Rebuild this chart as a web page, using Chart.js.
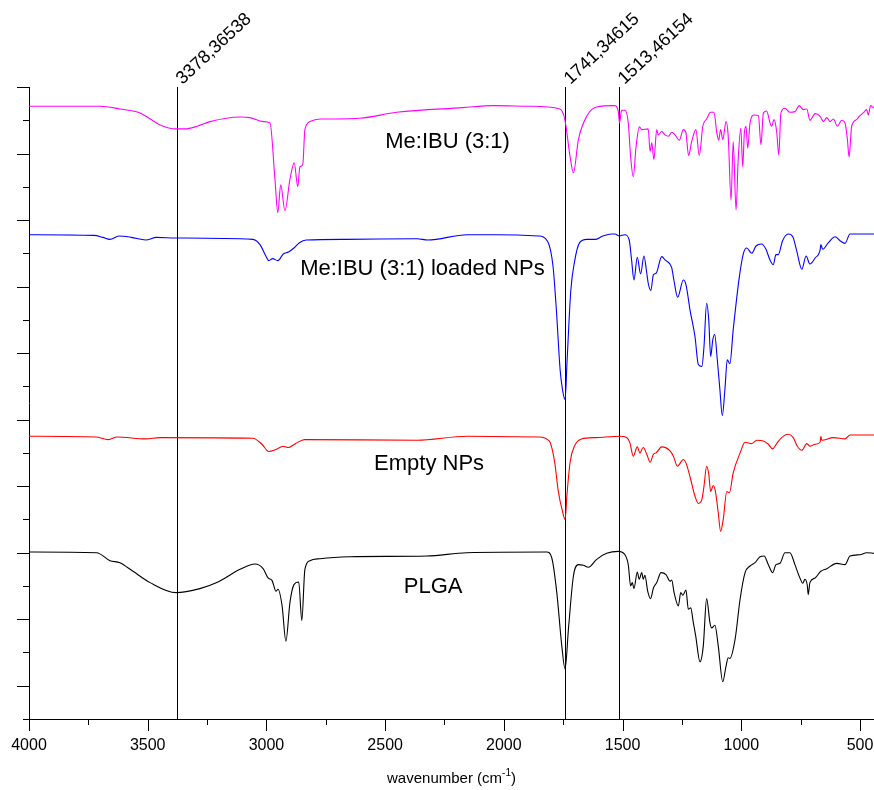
<!DOCTYPE html>
<html>
<head>
<meta charset="utf-8">
<script src="https://cdn.jsdelivr.net/npm/chart.js@4.4.1/dist/chart.umd.min.js"></script>
<style>
    html, body { margin: 0; padding: 0; background: #fff; }
    #wrap { width: 874px; height: 790px; }
</style>
</head>
<body>
<div id="wrap"><canvas id="ftir" width="874" height="790"></canvas></div>
<script>
// wavenumber (cm-1) / signal pairs, one pair of arrays per spectrum
var ibuWn = [4000, 3701, 3617, 3532, 3490, 3448, 3381, 3343, 3292, 3238, 3111, 3069, 3013, 2985, 2964, 2952, 2940, 2922, 2901, 2883, 2868, 2859, 2847, 2838, 2817, 2774, 2718, 2606, 2451, 2172, 2046, 1890, 1764, 1743, 1721, 1707, 1686, 1651, 1609, 1532, 1518, 1513, 1504, 1490, 1476, 1466, 1455, 1443, 1429, 1419, 1392, 1384, 1377, 1368, 1356, 1350, 1335, 1321, 1307, 1293, 1279, 1261, 1244, 1233, 1222, 1209, 1191, 1177, 1162, 1146, 1129, 1115, 1103, 1095, 1087, 1078, 1064, 1055, 1043, 1034, 1022, 1013, 1002, 994, 987, 980, 973, 963, 946, 928, 917, 907, 893, 879, 872, 862, 851, 842, 833, 816, 795, 774, 756, 739, 724, 711, 689, 668, 654, 640, 626, 612, 595, 577, 563, 553, 546, 535, 514, 503, 486, 472, 465, 455, 441];
var ibuVal = [8.71, 8.71, 8.67, 8.61, 8.52, 8.43, 8.37, 8.37, 8.41, 8.48, 8.55, 8.54, 8.48, 8.46, 7.61, 7.11, 7.53, 7.14, 7.61, 7.86, 7.50, 7.80, 7.83, 8.36, 8.48, 8.52, 8.52, 8.53, 8.62, 8.69, 8.72, 8.71, 8.67, 8.51, 7.95, 7.71, 8.21, 8.56, 8.70, 8.72, 8.63, 8.46, 8.65, 8.65, 8.46, 7.95, 7.65, 8.11, 8.40, 8.36, 8.37, 8.03, 8.16, 7.91, 8.36, 8.28, 8.33, 8.28, 8.26, 8.32, 8.28, 8.20, 8.36, 8.31, 7.97, 8.18, 8.36, 7.97, 8.41, 8.52, 8.62, 8.62, 8.31, 8.20, 8.36, 8.21, 8.48, 8.26, 7.30, 8.18, 7.15, 7.91, 8.38, 7.80, 8.31, 8.41, 8.08, 8.46, 8.58, 8.57, 8.13, 8.61, 8.64, 8.46, 8.41, 8.51, 8.33, 7.98, 8.61, 8.68, 8.62, 8.63, 8.72, 8.66, 8.67, 8.50, 8.60, 8.56, 8.48, 8.54, 8.48, 8.52, 8.41, 8.50, 8.46, 8.21, 7.95, 8.41, 8.51, 8.56, 8.61, 8.66, 8.58, 8.72, 8.68];

var loadedWn = [4000, 3726, 3689, 3659, 3621, 3569, 3508, 3463, 3381, 3057, 3027, 3004, 2990, 2974, 2952, 2929, 2907, 2884, 2861, 2832, 2666, 2366, 2320, 2155, 2034, 1854, 1816, 1793, 1779, 1763, 1753, 1742, 1734, 1718, 1703, 1681, 1651, 1613, 1583, 1545, 1532, 1514, 1490, 1472, 1462, 1452, 1438, 1424, 1410, 1398, 1392, 1381, 1370, 1359, 1335, 1321, 1293, 1283, 1268, 1244, 1233, 1216, 1195, 1181, 1166, 1157, 1146, 1137, 1129, 1120, 1112, 1101, 1090, 1080, 1069, 1059, 1048, 1034, 1008, 991, 977, 956, 938, 914, 896, 879, 865, 854, 844, 826, 802, 783, 766, 745, 727, 711, 689, 668, 665, 657, 633, 605, 584, 563, 542, 441];
var loadedVal = [6.78, 6.77, 6.74, 6.71, 6.76, 6.74, 6.70, 6.74, 6.73, 6.71, 6.63, 6.47, 6.39, 6.42, 6.39, 6.49, 6.52, 6.58, 6.66, 6.70, 6.71, 6.72, 6.70, 6.78, 6.78, 6.76, 6.68, 6.31, 5.66, 4.75, 4.45, 4.30, 4.86, 5.94, 6.36, 6.66, 6.71, 6.71, 6.76, 6.79, 6.79, 6.76, 6.78, 6.70, 6.40, 6.10, 6.44, 6.19, 6.46, 6.20, 6.05, 5.94, 6.18, 6.20, 6.45, 6.40, 6.28, 6.08, 5.84, 6.10, 6.03, 5.65, 5.25, 4.83, 4.80, 5.10, 5.75, 5.50, 4.95, 5.20, 5.28, 4.90, 4.45, 4.06, 4.45, 4.90, 4.84, 5.35, 6.15, 6.50, 6.58, 6.50, 6.61, 6.64, 6.56, 6.40, 6.33, 6.48, 6.48, 6.69, 6.79, 6.75, 6.53, 6.26, 6.46, 6.34, 6.43, 6.55, 6.63, 6.56, 6.66, 6.75, 6.69, 6.65, 6.79, 6.79];

var emptyWn = [4000, 3719, 3666, 3629, 3508, 3448, 3057, 3019, 2990, 2960, 2929, 2907, 2877, 2839, 2366, 2155, 1854, 1809, 1786, 1771, 1753, 1742, 1734, 1721, 1703, 1673, 1613, 1511, 1483, 1469, 1455, 1438, 1427, 1413, 1398, 1384, 1370, 1359, 1335, 1300, 1286, 1269, 1244, 1233, 1213, 1195, 1181, 1166, 1157, 1146, 1137, 1129, 1118, 1109, 1097, 1087, 1076, 1061, 1050, 1034, 1005, 984, 956, 935, 907, 886, 868, 851, 830, 802, 781, 764, 745, 724, 711, 689, 668, 665, 661, 612, 563, 542, 441];
var emptyVal = [3.75, 3.74, 3.70, 3.74, 3.71, 3.73, 3.72, 3.63, 3.52, 3.55, 3.60, 3.58, 3.64, 3.70, 3.69, 3.75, 3.74, 3.68, 3.36, 2.93, 2.62, 2.50, 2.88, 3.36, 3.60, 3.71, 3.73, 3.75, 3.73, 3.65, 3.45, 3.59, 3.50, 3.58, 3.48, 3.36, 3.48, 3.50, 3.59, 3.53, 3.45, 3.30, 3.40, 3.35, 3.10, 2.85, 2.74, 2.80, 3.00, 3.30, 3.18, 2.92, 3.01, 2.92, 2.60, 2.32, 2.50, 2.92, 2.90, 3.20, 3.50, 3.66, 3.64, 3.69, 3.68, 3.63, 3.56, 3.64, 3.73, 3.78, 3.73, 3.60, 3.54, 3.64, 3.60, 3.63, 3.66, 3.75, 3.69, 3.73, 3.71, 3.77, 3.77];

var plgaWn = [4000, 3715, 3659, 3617, 3562, 3490, 3381, 3280, 3209, 3111, 3048, 3014, 2993, 2976, 2960, 2951, 2934, 2918, 2901, 2884, 2864, 2851, 2838, 2817, 2774, 2648, 2325, 2156, 1819, 1798, 1777, 1756, 1742, 1728, 1707, 1686, 1665, 1644, 1609, 1567, 1518, 1490, 1476, 1466, 1459, 1452, 1438, 1430, 1419, 1413, 1406, 1394, 1382, 1370, 1356, 1338, 1317, 1300, 1293, 1283, 1265, 1255, 1246, 1233, 1223, 1213, 1202, 1192, 1174, 1160, 1146, 1132, 1125, 1111, 1097, 1078, 1064, 1055, 1048, 1026, 1005, 984, 963, 942, 921, 904, 886, 868, 854, 837, 816, 795, 774, 753, 741, 732, 722, 718, 711, 689, 668, 665, 640, 598, 563, 542, 500, 472, 441];
var plgaVal = [2.01, 2.00, 1.88, 1.85, 1.72, 1.55, 1.40, 1.46, 1.55, 1.75, 1.83, 1.76, 1.62, 1.58, 1.42, 1.45, 1.20, 0.67, 1.25, 1.52, 1.56, 0.98, 1.75, 1.88, 1.91, 1.94, 1.95, 2.00, 2.01, 1.92, 1.40, 0.60, 0.25, 0.85, 1.65, 1.82, 1.81, 1.78, 1.90, 1.99, 2.02, 1.97, 1.82, 1.50, 1.55, 1.46, 1.71, 1.60, 1.70, 1.60, 1.66, 1.42, 1.31, 1.47, 1.55, 1.70, 1.67, 1.57, 1.59, 1.40, 1.20, 1.40, 1.36, 1.44, 1.15, 1.17, 0.95, 0.75, 0.36, 0.60, 1.31, 0.95, 0.87, 0.91, 0.60, 0.06, 0.30, 0.42, 0.41, 0.70, 1.30, 1.70, 1.80, 1.85, 1.94, 1.95, 1.82, 1.70, 1.82, 1.84, 2.00, 2.00, 1.82, 1.62, 1.54, 1.60, 1.51, 1.37, 1.55, 1.62, 1.71, 1.72, 1.76, 1.84, 1.82, 1.95, 1.97, 2.00, 1.99];

var xTickValues = [500, 750, 1000, 1250, 1500, 1750, 2000, 2250, 2500, 2750, 3000, 3250, 3500, 3750, 4000];
var yTickValues = [-0.5, 0, 0.5, 1, 1.5, 2, 2.5, 3, 3.5, 4, 4.5, 5, 5.5, 6, 6.5, 7, 7.5, 8, 8.5, 9];

var markerWn = [3378.36538, 1741.34615, 1513.46154];
var markerText = ['3378,36538', '1741,34615', '1513,46154'];

var seriesText = ['Me:IBU (3:1)', 'Me:IBU (3:1) loaded NPs', 'Empty NPs', 'PLGA'];
var seriesTextWn = [2237, 2343, 2315, 2298];
var seriesTextVal = [8.08, 6.17, 3.24, 1.40];

var FONT = '"Liberation Sans", Arial, sans-serif';

function toPoints(wn, val) {
    var pts = [];
    for (var i = 0; i < wn.length; i++) pts.push({ x: wn[i], y: val[i] });
    return pts;
}

function spectrum(label, wn, val, color) {
    return {
        label: label,
        data: toPoints(wn, val),
        borderColor: color,
        borderWidth: 1.1,
        pointRadius: 0,
        fill: false,
        cubicInterpolationMode: 'monotone'
    };
}

var decorPlugin = {
    id: 'decor',
    beforeDatasetsDraw: function (chart) {
        var ctx = chart.ctx;
        var area = chart.chartArea;
        var xs = chart.scales.x;
        ctx.save();
        ctx.strokeStyle = '#000';
        ctx.lineWidth = 1;
        ctx.fillStyle = '#000';
        ctx.font = '18px ' + FONT;
        ctx.textAlign = 'left';
        ctx.textBaseline = 'alphabetic';
        markerWn.forEach(function (w, i) {
            var px = Math.round(xs.getPixelForValue(w)) + 0.5;
            ctx.beginPath();
            ctx.moveTo(px, area.top);
            ctx.lineTo(px, area.bottom);
            ctx.stroke();

            ctx.save();
            ctx.translate(px + 5, area.top - 2);
            ctx.rotate(-43 * Math.PI / 180);
            ctx.fillText(markerText[i], 0, 0);
            ctx.restore();
        });
        ctx.restore();
    },
    afterDraw: function (chart) {
        var ctx = chart.ctx;
        var area = chart.chartArea;
        var xs = chart.scales.x;
        var ys = chart.scales.y;
        ctx.save();
        ctx.strokeStyle = '#000';
        ctx.lineWidth = 1;

        // tick marks: long on whole steps, short in between
        xs.ticks.forEach(function (t) {
            var px = Math.round(xs.getPixelForValue(t.value)) + 0.5;
            var len = t.value % 500 === 0 ? 12 : 6;
            ctx.beginPath();
            ctx.moveTo(px, area.bottom);
            ctx.lineTo(px, area.bottom + len);
            ctx.stroke();
        });
        ys.ticks.forEach(function (t) {
            var py = Math.round(ys.getPixelForValue(t.value)) + 0.5;
            var len = Number.isInteger(t.value) ? 12 : 6;
            ctx.beginPath();
            ctx.moveTo(area.left, py);
            ctx.lineTo(area.left - len, py);
            ctx.stroke();
        });

        // series names
        ctx.fillStyle = '#000';
        ctx.font = '22px ' + FONT;
        ctx.textAlign = 'center';
        ctx.textBaseline = 'alphabetic';
        seriesText.forEach(function (s, i) {
            ctx.fillText(s, xs.getPixelForValue(seriesTextWn[i]), ys.getPixelForValue(seriesTextVal[i]));
        });

        // axis title with superscript
        var main1 = 'wavenumber (cm';
        var sup = '-1';
        var main2 = ')';
        ctx.font = '15px ' + FONT;
        var w1 = ctx.measureText(main1).width;
        var w3 = ctx.measureText(main2).width;
        ctx.font = '10px ' + FONT;
        var w2 = ctx.measureText(sup).width;
        var total = w1 + w2 + w3;
        var cx = (area.left + area.right) / 2;
        var x0 = cx - total / 2;
        var base = 783;
        ctx.textAlign = 'left';
        ctx.font = '15px ' + FONT;
        ctx.fillText(main1, x0, base);
        ctx.font = '10px ' + FONT;
        ctx.fillText(sup, x0 + w1, base - 7);
        ctx.font = '15px ' + FONT;
        ctx.fillText(main2, x0 + w1 + w2, base);
        ctx.restore();
    }
};

document.addEventListener('DOMContentLoaded', function () {
    initChart();
});

function initChart() {
    var el = document.getElementById('ftir');
    if (!el || typeof Chart === 'undefined') return;

    new Chart(el.getContext('2d'), {
        type: 'line',
        data: {
            datasets: [
                spectrum('Me:IBU (3:1)', ibuWn, ibuVal, '#ff00ff'),
                spectrum('Me:IBU (3:1) loaded NPs', loadedWn, loadedVal, '#0000ff'),
                spectrum('Empty NPs', emptyWn, emptyVal, '#ff0000'),
                spectrum('PLGA', plgaWn, plgaVal, '#000000')
            ]
        },
        options: {
            responsive: false,
            animation: false,
            layout: { padding: { left: 29, top: 87, right: 0, bottom: 0 } },
            plugins: {
                legend: { display: false },
                tooltip: { enabled: false }
            },
            scales: {
                x: {
                    type: 'linear',
                    reverse: true,
                    min: 441,
                    max: 4000,
                    afterBuildTicks: function (scale) {
                        scale.ticks = xTickValues.map(function (v) { return { value: v }; });
                    },
                    afterFit: function (scale) { scale.height = 71; },
                    grid: { display: false, drawTicks: false },
                    border: { display: true, color: '#000', width: 1 },
                    ticks: {
                        autoSkip: false,
                        maxRotation: 0,
                        padding: 17,
                        color: '#000',
                        font: { family: FONT, size: 16 },
                        callback: function (v) { return v % 500 === 0 ? String(v) : ''; }
                    }
                },
                y: {
                    type: 'linear',
                    min: -0.5,
                    max: 9,
                    afterBuildTicks: function (scale) {
                        scale.ticks = yTickValues.map(function (v) { return { value: v }; });
                    },
                    afterFit: function (scale) { scale.width = 0; },
                    grid: { display: false, drawTicks: false },
                    border: { display: true, color: '#000', width: 1 },
                    ticks: { display: false }
                }
            }
        },
        plugins: [decorPlugin]
    });
}
</script>
</body>
</html>
